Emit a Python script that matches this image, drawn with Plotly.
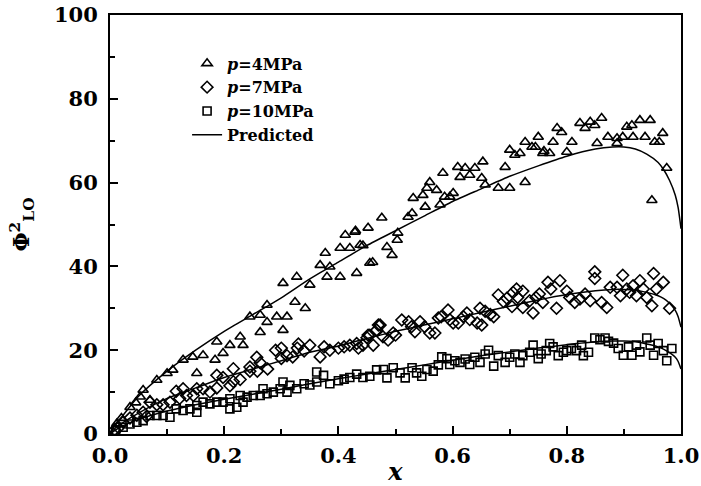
import plotly.graph_objects as go

# ---------------- data ----------------
x_p4 = [0.303, 0.327, 0.35, 0.377, 0.368, 0.385, 0.403, 0.42, 0.438, 0.38, 0.403, 0.432, 0.455,
        0.412, 0.43, 0.324, 0.342, 0.275, 0.292, 0.31, 0.263, 0.245, 0.275, 0.263, 0.303, 0.228,
        0.21, 0.233, 0.187, 0.198, 0.184, 0.163, 0.145, 0.152, 0.128, 0.11, 0.1, 0.082, 0.058,
        0.053, 0.035, 0.07, 0.46, 0.485, 0.494, 0.443, 0.429, 0.452, 0.476, 0.504, 0.503, 0.522,
        0.529, 0.531, 0.548, 0.555, 0.56, 0.572, 0.552, 0.578, 0.595, 0.601, 0.586, 0.583, 0.613,
        0.622, 0.639, 0.609, 0.63, 0.651, 0.657, 0.68, 0.7, 0.727, 0.692, 0.653, 0.7, 0.709, 0.718,
        0.727, 0.75, 0.739, 0.745, 0.758, 0.77, 0.776, 0.76, 0.8, 0.809, 0.783, 0.791, 0.823, 0.841,
        0.832, 0.849, 0.861, 0.853, 0.872, 0.888, 0.888, 0.898, 0.905, 0.914, 0.928, 0.946, 0.916,
        0.937, 0.954, 0.968, 0.962, 0.975, 0.949, 0.02, 0.012, 0.045]
y_p4 = [36.0, 37.5, 35.6, 43.2, 40.3, 39.9, 44.4, 44.4, 45.1, 37.5, 37.5, 38.4, 40.8,
        47.5, 48.5, 31.5, 30.0, 30.8, 28.0, 28.0, 28.4, 28.0, 26.7, 24.3, 24.8, 23.2,
        21.2, 21.2, 22.0, 19.3, 17.7, 18.8, 18.4, 14.5, 17.7, 15.3, 14.5, 12.9, 10.5,
        8.9, 6.4, 8.1, 41.0, 44.6, 42.7, 45.0, 48.2, 49.2, 51.6, 48.0, 46.3, 51.8,
        52.7, 56.3, 57.0, 58.7, 60.1, 58.2, 54.2, 54.7, 56.6, 57.5, 56.6, 62.3, 61.3,
        63.5, 63.5, 63.7, 61.8, 61.1, 59.5, 58.7, 58.7, 60.1, 63.7, 65.0, 67.8, 66.6, 67.0,
        69.7, 70.9, 68.5, 68.5, 67.0, 67.0, 69.7, 67.5, 67.3, 69.7, 73.0, 72.0, 74.2, 74.5,
        73.0, 73.7, 75.4, 69.4, 70.9, 70.6, 69.4, 70.9, 73.3, 73.7, 74.9, 74.9, 70.9,
        70.9, 69.7, 71.8, 69.7, 63.5, 55.8, 3.8, 2.5, 7.5]

x_p7 = [0.47, 0.455, 0.443, 0.435, 0.42, 0.41, 0.4, 0.385, 0.375, 0.368, 0.35, 0.34, 0.328, 0.32,
        0.31, 0.3, 0.29, 0.276, 0.263, 0.258, 0.245, 0.228, 0.216, 0.21, 0.198, 0.187, 0.175,
        0.163, 0.152, 0.146, 0.134, 0.122, 0.116, 0.105, 0.093, 0.082, 0.07, 0.058, 0.047, 0.035,
        0.023, 0.015, 0.064, 0.128, 0.187, 0.216, 0.245, 0.257, 0.3, 0.33, 0.45, 0.467,
        0.432, 0.452, 0.461, 0.473, 0.478, 0.487, 0.496, 0.5, 0.511, 0.523, 0.528, 0.534, 0.543,
        0.551, 0.56, 0.569, 0.575, 0.58, 0.592, 0.595, 0.601, 0.61, 0.619, 0.625, 0.63, 0.643,
        0.648, 0.651, 0.657, 0.666, 0.672, 0.68, 0.689, 0.695, 0.704, 0.706, 0.712, 0.714, 0.723,
        0.723, 0.735, 0.741, 0.746, 0.752, 0.758, 0.767, 0.772, 0.782, 0.788, 0.8, 0.805, 0.814,
        0.823, 0.832, 0.841, 0.849, 0.849, 0.861, 0.87, 0.876, 0.888, 0.894, 0.898, 0.905, 0.91,
        0.916, 0.922, 0.928, 0.934, 0.94, 0.949, 0.952, 0.957, 0.969, 0.98, 0.008]
y_p7 = [26.0, 23.6, 21.2, 20.5, 21.2, 20.8, 20.5, 20.0, 20.8, 18.4, 21.2, 19.8, 20.5, 18.4,
        18.7, 18.0, 20.0, 15.5, 17.0, 15.0, 16.0, 13.0, 12.5, 11.5, 13.5, 11.0, 10.0,
        10.8, 10.8, 9.2, 9.2, 8.5, 10.2, 7.6, 7.0, 7.0, 7.6, 5.2, 4.5, 3.8,
        2.8, 1.5, 4.2, 10.8, 14.0, 15.6, 15.0, 18.3, 20.5, 21.5, 23.0, 24.8,
        21.6, 23.6, 21.2, 26.0, 23.2, 22.4, 24.1, 23.6, 27.2, 26.8, 25.6, 24.4, 26.8,
        25.6, 24.1, 24.1, 27.7, 28.0, 29.6, 27.3, 26.5, 26.5, 28.0, 28.9, 27.3, 26.5,
        30.0, 26.0, 29.3, 28.5, 28.0, 33.2, 31.6, 32.4, 30.4, 33.8, 34.6, 32.6, 34.1,
        30.2, 31.8, 28.9, 32.6, 33.4, 31.4, 36.2, 34.6, 30.0, 36.6, 34.1, 32.6, 31.4,
        32.2, 33.4, 31.8, 38.7, 37.1, 31.4, 30.2, 35.0, 35.0, 33.0, 37.9, 34.6, 33.8,
        35.4, 33.0, 36.6, 34.6, 32.6, 30.6, 38.3, 34.6, 36.2, 30.0, 1.0]

x_p10 = [0.467, 0.455, 0.443, 0.432, 0.42, 0.41, 0.4, 0.385, 0.374, 0.362, 0.35, 0.34, 0.327,
         0.315, 0.31, 0.298, 0.286, 0.275, 0.263, 0.251, 0.24, 0.228, 0.222, 0.21, 0.21, 0.198,
         0.187, 0.175, 0.163, 0.152, 0.152, 0.14, 0.128, 0.116, 0.105, 0.093, 0.082, 0.07, 0.058,
         0.047, 0.035, 0.023, 0.303, 0.268, 0.233, 0.362,
         0.479, 0.485, 0.496, 0.508, 0.517, 0.529, 0.537, 0.546, 0.555, 0.566, 0.575, 0.581,
         0.59, 0.595, 0.604, 0.613, 0.622, 0.63, 0.639, 0.648, 0.657, 0.663, 0.672, 0.68, 0.692,
         0.7, 0.709, 0.718, 0.723, 0.735, 0.741, 0.75, 0.755, 0.764, 0.77, 0.776, 0.785, 0.794,
         0.8, 0.808, 0.817, 0.826, 0.829, 0.838, 0.849, 0.858, 0.867, 0.873, 0.882, 0.89, 0.899,
         0.908, 0.914, 0.922, 0.928, 0.94, 0.946, 0.952, 0.96, 0.969, 0.975, 0.984, 0.01]
y_p10 = [15.3, 13.8, 13.5, 14.3, 13.5, 13.1, 12.7, 12.0, 14.0, 12.4, 11.7, 12.0, 10.8,
         11.6, 10.0, 10.8, 10.0, 9.6, 9.2, 9.2, 8.8, 9.2, 6.4, 6.0, 8.4, 7.6,
         7.6, 7.2, 7.6, 6.8, 5.2, 6.0, 5.6, 6.0, 4.0, 4.4, 4.4, 4.4, 3.2,
         2.8, 2.4, 1.6, 12.4, 10.8, 7.6, 14.8,
         15.4, 13.4, 15.8, 14.6, 13.4, 15.8, 14.6, 13.8, 15.4, 15.0, 16.5, 18.4,
         18.0, 16.6, 17.5, 17.1, 17.9, 16.6, 18.3, 17.1, 19.1, 20.0, 16.2, 18.7, 17.1,
         18.3, 19.1, 17.1, 18.7, 19.5, 21.2, 18.0, 19.1, 19.9, 21.6, 20.8, 18.7, 19.5,
         19.9, 20.4, 19.9, 21.2, 18.7, 19.5, 22.9, 22.5, 22.9, 22.1, 21.7, 20.4, 18.8,
         20.8, 18.8, 21.2, 19.6, 22.9, 21.2, 18.8, 21.6, 19.9, 17.5, 20.4, 0.8]

x_pred = [0, 0.01, 0.02, 0.05, 0.1, 0.15, 0.2, 0.25, 0.3, 0.35, 0.4, 0.45, 0.5, 0.55, 0.6,
          0.65, 0.7, 0.75, 0.8, 0.85, 0.88, 0.9, 0.92, 0.94, 0.96, 0.97, 0.98, 0.99, 0.995, 1.0]
pred_4 = [0, 2.5, 4.0, 9.0, 15.0, 20.0, 24.5, 28.5, 32.5, 37.0, 41.0, 45.0, 48.5, 52.0, 55.5,
          58.5, 61.5, 64.0, 66.3, 68.0, 68.5, 68.5, 68.0, 66.8, 64.8, 63.0, 60.5, 57.0, 54.0, 49.0]
pred_7 = [0, 1.5, 2.5, 5.0, 8.5, 11.0, 13.5, 15.5, 17.5, 19.5, 21.0, 22.8, 24.5, 26.0, 27.5,
          29.0, 30.5, 32.0, 33.3, 34.2, 34.5, 34.5, 34.3, 33.8, 33.0, 32.3, 31.2, 29.5, 28.0, 25.5]
pred_10 = [0, 1.0, 1.8, 3.5, 5.5, 7.0, 8.3, 9.5, 10.7, 12.0, 13.2, 14.3, 15.4, 16.5, 17.6,
           18.7, 19.6, 20.5, 21.3, 22.0, 22.2, 22.2, 22.0, 21.5, 20.8, 20.2, 19.4, 18.3, 17.3, 15.5]

series_names = ["<i>p</i>=4MPa", "<i>p</i>=7MPa", "<i>p</i>=10MPa"]
pred_name = "Predicted"
x_tickvals = [0.0, 0.2, 0.4, 0.6, 0.8, 1.0]
x_ticktext = ["0.0", "0.2", "0.4", "0.6", "0.8", "1.0"]
y_tickvals = [0, 20, 40, 60, 80, 100]
y_ticktext = ["0", "20", "40", "60", "80", "100"]

# ---------------- figure ----------------
SERIF = "DejaVu Serif"
fig = go.Figure()

symbols = ["triangle-up-open", "diamond-open", "square-open"]
sizes = [9, 9, 8]
for xs, ys, nm, sym, sz in zip([x_p4, x_p7, x_p10], [y_p4, y_p7, y_p10], series_names, symbols, sizes):
    fig.add_trace(go.Scatter(
        x=xs, y=ys, mode="markers", name=nm,
        marker=dict(symbol=sym, size=sz, color="black", line=dict(width=1.6, color="black")),
    ))

for i, yp in enumerate([pred_4, pred_7, pred_10]):
    fig.add_trace(go.Scatter(
        x=x_pred, y=yp, mode="lines", name=pred_name, legendgroup="pred",
        showlegend=(i == 0), line=dict(color="black", width=1.5, shape="spline", smoothing=0.6),
    ))

axis_common = dict(
    showline=True, linecolor="black", linewidth=2, mirror=True,
    ticks="inside", tickcolor="black", tickwidth=1.5, ticklen=8,
    showgrid=False, zeroline=False, automargin=False,
    tickfont=dict(family=SERIF, size=21, color="black", weight="bold"),
)

fig.update_xaxes(
    range=[0, 1], tickvals=x_tickvals, ticktext=x_ticktext,
    minor=dict(ticks="inside", dtick=0.1, tick0=0, ticklen=5, tickwidth=1.5, tickcolor="black"),
    title=dict(text="<i>x</i>", font=dict(family=SERIF, size=24, color="black", weight="bold"),
               standoff=2),
    ticklabelstandoff=2,
    **axis_common,
)
fig.update_yaxes(
    range=[0, 100], tickvals=y_tickvals, ticktext=y_ticktext,
    minor=dict(ticks="inside", dtick=10, tick0=0, ticklen=5, tickwidth=1.5, tickcolor="black"),
    title=dict(text="Φ<sup>2</sup><sub>LO</sub>", font=dict(family=SERIF, size=22, color="black", weight="bold"),
               standoff=18),
    ticklabelstandoff=6,
    **axis_common,
)

fig.update_layout(
    width=701, height=486,
    margin=dict(l=110, r=20, t=15, b=52),
    plot_bgcolor="white", paper_bgcolor="white",
    showlegend=True,
    legend=dict(
        x=0.135, y=0.925, xanchor="left", yanchor="top",
        bgcolor="rgba(0,0,0,0)", borderwidth=0,
        font=dict(family=SERIF, size=16, color="black", weight="bold"),
        tracegroupgap=0, itemwidth=30,
    ),
)

fig.write_html("out.html")
